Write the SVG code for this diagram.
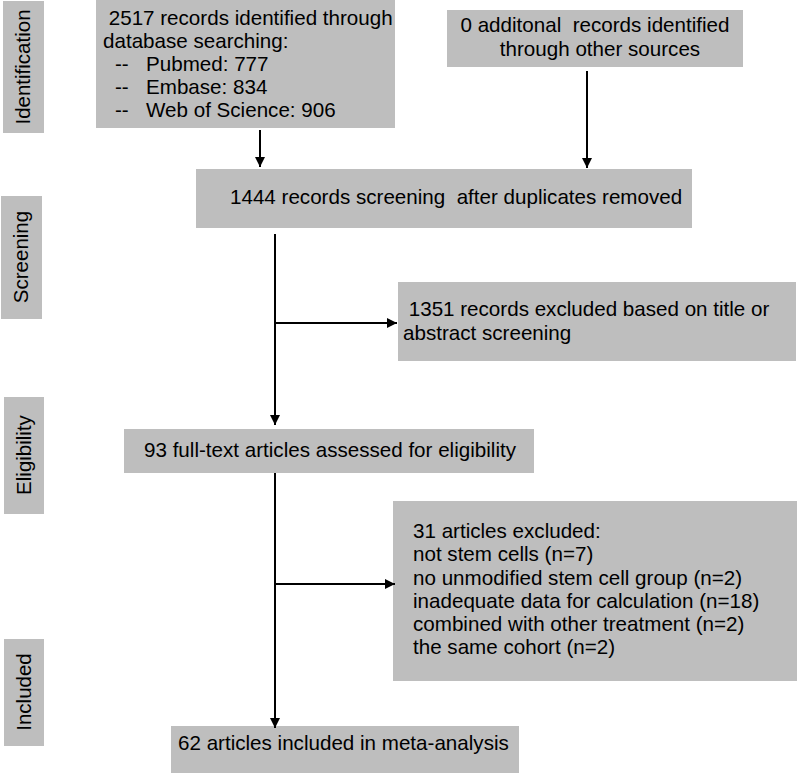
<svg xmlns="http://www.w3.org/2000/svg" width="797" height="774" viewBox="0 0 797 774">
<style>
.box{fill:#bebebe;}
.t{font-family:"Liberation Sans",Arial,sans-serif;font-size:20.6px;fill:#000;}
.lbl{font-family:"Liberation Sans",Arial,sans-serif;font-size:20.5px;fill:#000;text-anchor:middle;}
.ln{stroke:#000;stroke-width:2;fill:none;}
</style>
<defs>
<marker id="ah" viewBox="0 0 10 10" refX="10" refY="5" markerWidth="10" markerHeight="10" markerUnits="userSpaceOnUse" orient="auto">
<path d="M0,0 L10,5 L0,10 Z" fill="#000"/>
</marker>
</defs>
<rect width="797" height="774" fill="#fff"/>
<g id="stage-identification"><rect class="box" x="3" y="1" width="41" height="132"/><text class="lbl" transform="translate(30,67) rotate(-90)">Identification</text></g>
<g id="stage-screening"><rect class="box" x="1" y="196" width="41" height="123"/><text class="lbl" transform="translate(28,257) rotate(-90)">Screening</text></g>
<g id="stage-eligibility"><rect class="box" x="4" y="397" width="40" height="117"/><text class="lbl" transform="translate(31,455) rotate(-90)">Eligibility</text></g>
<g id="stage-included"><rect class="box" x="4" y="639" width="40" height="107"/><text class="lbl" transform="translate(31,692) rotate(-90)">Included</text></g>
<g id="db-records"><rect class="box" x="96" y="0" width="299" height="128"/>
<text class="t" x="103" y="25" xml:space="preserve"> 2517 records identified through</text>
<text class="t" x="103" y="48">database searching:</text>
<text class="t" x="115" y="71">--</text><text class="t" x="146" y="71">Pubmed: 777</text>
<text class="t" x="115" y="94">--</text><text class="t" x="146" y="94">Embase: 834</text>
<text class="t" x="115" y="117">--</text><text class="t" x="146" y="117">Web of Science: 906</text></g>
<g id="other-records"><rect class="box" x="447" y="10" width="296" height="57"/>
<text class="t" x="595" y="32" text-anchor="middle" xml:space="preserve">0 additonal  records identified</text>
<text class="t" x="600" y="56" text-anchor="middle">through other sources</text></g>
<g id="screened"><rect class="box" x="196" y="169" width="496" height="59"/>
<text class="t" x="230" y="204" xml:space="preserve">1444 records screening  after duplicates removed</text></g>
<g id="excluded-screen"><rect class="box" x="398" y="282" width="398" height="79"/>
<text class="t" x="403" y="316" xml:space="preserve"> 1351 records excluded based on title or</text>
<text class="t" x="403" y="340">abstract screening</text></g>
<g id="fulltext"><rect class="box" x="124" y="429" width="410" height="44"/>
<text class="t" x="144" y="457">93 full-text articles assessed for eligibility</text></g>
<g id="excluded-full"><rect class="box" x="393" y="501" width="404" height="180"/>
<text class="t" x="413" y="538">31 articles excluded:</text>
<text class="t" x="413" y="561">not stem cells (n=7)</text>
<text class="t" x="413" y="585">no unmodified stem cell group (n=2)</text>
<text class="t" x="413" y="608">inadequate data for calculation (n=18)</text>
<text class="t" x="413" y="631">combined with other treatment (n=2)</text>
<text class="t" x="413" y="654">the same cohort (n=2)</text></g>
<g id="included"><rect class="box" x="171" y="726" width="348" height="47"/>
<text class="t" x="178" y="750">62 articles included in meta-analysis</text></g>
<g id="connectors">
<line class="ln" x1="260" y1="130" x2="260" y2="167" marker-end="url(#ah)"/>
<line class="ln" x1="587" y1="71" x2="587" y2="168" marker-end="url(#ah)"/>
<line class="ln" x1="275" y1="234" x2="275" y2="425" marker-end="url(#ah)"/>
<line class="ln" x1="275" y1="323" x2="397" y2="323" marker-end="url(#ah)"/>
<line class="ln" x1="275" y1="473" x2="275" y2="728" marker-end="url(#ah)"/>
<line class="ln" x1="275" y1="584" x2="395" y2="584" marker-end="url(#ah)"/>
</g>
</svg>
